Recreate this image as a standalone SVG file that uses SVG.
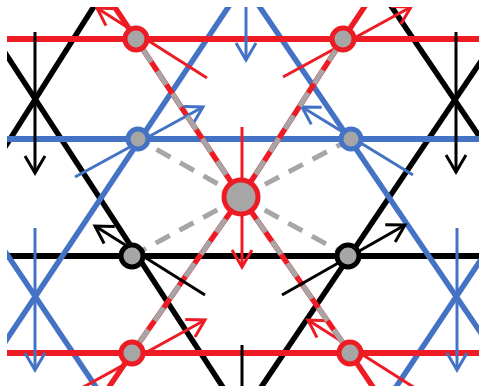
<svg xmlns="http://www.w3.org/2000/svg" width="479" height="386" viewBox="0 0 479 386">
<defs>
<style>
.k{stroke:#000;fill:none}
.b{stroke:#4472C4;fill:none}
.r{stroke:#ED1C24;fill:none}
.thick{stroke-width:5.5}
.hz{stroke-width:6}
.thin{stroke-width:3}
.dash{stroke:#A6A6A6;stroke-width:5;stroke-dasharray:16 11;fill:none}
.node{fill:#A6A6A6;stroke-width:5}
</style>
<clipPath id="clip"><rect x="7" y="7" width="472" height="379"/></clipPath>
<marker id="ak" markerUnits="userSpaceOnUse" orient="auto" refX="0" refY="0" markerWidth="40" markerHeight="40" viewBox="-20 -20 40 40" overflow="visible"><path d="M-17,-10 L0,0 L-17,10" fill="none" stroke="#000" stroke-width="3"/></marker>
<marker id="ab" markerUnits="userSpaceOnUse" orient="auto" refX="0" refY="0" markerWidth="40" markerHeight="40" viewBox="-20 -20 40 40" overflow="visible"><path d="M-17,-10 L0,0 L-17,10" fill="none" stroke="#4472C4" stroke-width="3"/></marker>
<marker id="ar" markerUnits="userSpaceOnUse" orient="auto" refX="0" refY="0" markerWidth="40" markerHeight="40" viewBox="-20 -20 40 40" overflow="visible"><path d="M-17,-10 L0,0 L-17,10" fill="none" stroke="#ED1C24" stroke-width="3"/></marker>
</defs>
<rect width="479" height="386" fill="#fff"/>
<g clip-path="url(#clip)">
<g id="connectors">
<g id="black-lines" class="k thick">
<line x1="98" y1="0" x2="0" y2="155"/>
<line x1="0" y1="45" x2="241" y2="415"/>
<line x1="387" y1="0" x2="500" y2="167"/>
<line x1="241" y1="417" x2="500" y2="33"/>
<line x1="0" y1="256" x2="479" y2="256" class="hz"/>
</g>
<g id="blue-lines" class="b thick">
<line x1="233" y1="0" x2="0" y2="349.5"/>
<line x1="255" y1="0" x2="500" y2="361"/>
<line x1="0" y1="244" x2="100" y2="393"/>
<line x1="392" y1="393" x2="500" y2="231"/>
<line x1="0" y1="139" x2="479" y2="139" class="hz"/>
</g>
<g id="red-lines" class="r thick">
<polyline points="110,0 136,39 241,197 350,353 375,390"/>
<polyline points="369,0 343,39 241,197 132,353 107,390"/>
<line x1="0" y1="39" x2="479" y2="39" class="hz"/>
<line x1="0" y1="353" x2="479" y2="353" class="hz"/>
</g>
<g id="vertical-arrows" class="thin">
<line class="k" x1="35" y1="32" x2="35" y2="173" marker-end="url(#ak)"/>
<line class="k" x1="456" y1="32" x2="456" y2="172" marker-end="url(#ak)"/>
<line class="b" x1="35" y1="228" x2="35" y2="370" marker-end="url(#ab)"/>
<line class="b" x1="457" y1="228" x2="457" y2="370" marker-end="url(#ab)"/>
<line class="r" x1="242" y1="127" x2="242" y2="267" marker-end="url(#ar)"/>
<line class="b" x1="246" y1="-80" x2="246" y2="60" marker-end="url(#ab)"/>
<line class="k" x1="242" y1="345" x2="242" y2="485" marker-end="url(#ak)"/>
</g>
<g id="node-arrows" class="thin">
<line class="r" x1="207" y1="78" x2="97" y2="8" marker-end="url(#ar)"/>
<line class="r" x1="283" y1="77" x2="411" y2="7" marker-end="url(#ar)"/>
<line class="b" x1="75" y1="177" x2="203" y2="107" marker-end="url(#ab)"/>
<line class="b" x1="413" y1="175" x2="302" y2="107" marker-end="url(#ab)"/>
<line class="k" x1="205" y1="295" x2="95" y2="226" marker-end="url(#ak)"/>
<line class="k" x1="282" y1="295" x2="405" y2="225" marker-end="url(#ak)"/>
<line class="r" x1="69" y1="395" x2="205" y2="320" marker-end="url(#ar)"/>
<line class="r" x1="426" y1="395" x2="308" y2="320" marker-end="url(#ar)"/>
</g>
<g id="dashed-links" class="dash">
<line x1="241" y1="197" x2="136" y2="39"/>
<line x1="241" y1="197" x2="343" y2="39"/>
<line x1="241" y1="197" x2="138" y2="139"/>
<line x1="241" y1="197" x2="351" y2="139"/>
<line x1="241" y1="197" x2="132" y2="256"/>
<line x1="241" y1="197" x2="348" y2="256"/>
<line x1="241" y1="197" x2="132" y2="353"/>
<line x1="241" y1="197" x2="350" y2="353"/>
</g>
</g>
<g id="nodes">
<g id="n-red-tl"><circle class="node" cx="136" cy="39" r="11" stroke="#ED1C24"/></g>
<g id="n-red-tr"><circle class="node" cx="343" cy="39" r="11" stroke="#ED1C24"/></g>
<g id="n-blue-l"><circle class="node" cx="138" cy="139" r="10" stroke="#4472C4"/></g>
<g id="n-blue-r"><circle class="node" cx="351" cy="139" r="10" stroke="#4472C4"/></g>
<g id="n-center"><circle class="node" cx="241" cy="197" r="17" stroke="#ED1C24" stroke-width="6"/></g>
<g id="n-black-l"><circle class="node" cx="132" cy="256" r="11" stroke="#000" stroke-width="4"/></g>
<g id="n-black-r"><circle class="node" cx="348" cy="256" r="11" stroke="#000" stroke-width="4"/></g>
<g id="n-red-bl"><circle class="node" cx="132" cy="353" r="11" stroke="#ED1C24"/></g>
<g id="n-red-br"><circle class="node" cx="350" cy="353" r="11" stroke="#ED1C24"/></g>
</g>
</g>
</svg>
